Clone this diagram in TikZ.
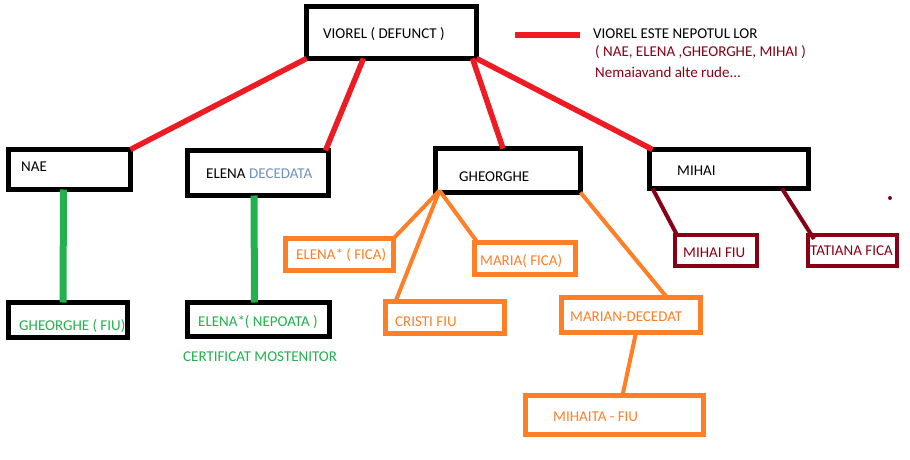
\documentclass[tikz,border=0pt]{standalone}
\usepackage{fontspec}
\setmainfont{Carlito}
\definecolor{pred}{HTML}{ED1C24}
\definecolor{pgreen}{HTML}{22B14C}
\definecolor{porange}{HTML}{FF7F27}
\definecolor{pdark}{HTML}{880015}
\definecolor{pblue}{HTML}{7092BE}
\tikzset{
  box/.style={draw, rectangle, inner sep=0pt, outer sep=0pt, line width=#1},
  blackbox/.style={box=5pt, draw=black},
  orangebox/.style={box=5pt, draw=porange},
  darkbox/.style={box=4pt, draw=pdark},
  txt/.style={anchor=west, inner sep=0pt, text height=9.5pt, text depth=0pt, font=\fontsize{15}{17}\selectfont},
  redline/.style={draw=pred, line width=5.5pt},
  greenline/.style={draw=pgreen, line width=7pt},
  orangeline/.style={draw=porange, line width=4pt},
  darkline/.style={draw=pdark, line width=4pt},
}
\begin{document}
\begin{tikzpicture}[x=1pt, y=-1pt]
\useasboundingbox[fill=white] (0,0) rectangle (910,460);
% boxes (outer edges minus half line width)
\node[blackbox, minimum width=170pt, minimum height=52pt] (viorel) at (391.5,32.5) {};
\node[blackbox, minimum width=122pt, minimum height=40pt] (nae) at (69.5,169.5) {};
\node[blackbox, minimum width=141pt, minimum height=45pt] (elena) at (258,173) {};
\node[blackbox, minimum width=145pt, minimum height=44pt] (gh) at (508,170.5) {};
\node[blackbox, minimum width=159pt, minimum height=39pt] (mihai) at (729,169) {};
\node[blackbox, minimum width=119pt, minimum height=35pt] (ghfiu) at (68,320) {};
\node[blackbox, minimum width=142pt, minimum height=34pt] (elnep) at (258.5,319.5) {};
\node[orangebox, minimum width=108pt, minimum height=32pt] (elfica) at (339.5,254.5) {};
\node[orangebox, minimum width=101pt, minimum height=32pt] (maria) at (525,258.5) {};
\node[orangebox, minimum width=119pt, minimum height=32pt] (cristi) at (445,317.5) {};
\node[orangebox, minimum width=139pt, minimum height=35pt] (marian) at (631,315) {};
\node[orangebox, minimum width=178pt, minimum height=39pt] (mihaita) at (614.5,415) {};
\node[darkbox, minimum width=82pt, minimum height=31pt] (mihaifiu) at (716,250.5) {};
\node[darkbox, minimum width=89pt, minimum height=31pt] (tatiana) at (852.5,250.5) {};
% texts
\node[txt] (tviorel) at (323,34) {VIOREL ( DEFUNCT )};
\node[txt] (tnae) at (21,167) {NAE};
\node[txt] (telena) at (206,174) {ELENA};
\node[txt, text=pblue] (tdec) at (249,174) {DECEDATA};
\node[txt] (tgh) at (459,177) {GHEORGHE};
\node[txt] (tmihai) at (677,171) {MIHAI};
\node[txt, text=pgreen] (tghfiu) at (19,326) {GHEORGHE ( FIU)};
\node[txt, text=pgreen] (telnep) at (198,322) {ELENA*( NEPOATA )};
\node[txt, text=pgreen] (tcert) at (183,357) {CERTIFICAT MOSTENITOR};
\node[txt, text=porange] (telfica) at (296,255) {ELENA* ( FICA)};
\node[txt, text=porange] (tmaria) at (480,261) {MARIA( FICA)};
\node[txt, text=porange] (tcristi) at (395,322) {CRISTI FIU};
\node[txt, text=porange] (tmarian) at (570,317) {MARIAN-DECEDAT};
\node[txt, text=porange] (tmihaita) at (553,417) {MIHAITA - FIU};
\node[txt, text=pdark] (tmihaifiu) at (683,253) {MIHAI FIU};
\node[txt, text=pdark] (ttatiana) at (810,251) {TATIANA FICA};
% legend
\coordinate (la) at (515,35);
\coordinate (lb) at (580,35);
\draw[redline] (la) -- (lb);
\node[txt] (leg1) at (593,34) {VIOREL ESTE NEPOTUL LOR};
\node[txt, text=pdark] (leg2) at (595,52) {( NAE, ELENA ,GHEORGHE, MIHAI )};
\node[txt, text=pdark] (leg3) at (595,73) {Nemaiavand alte rude...};
\fill[pdark] (890,198) circle (2pt) coordinate (dot);
% connectors
\draw[redline] (viorel.south west) -- (nae.north east);
\draw[redline] ([xshift=57pt]viorel.south west) -- ([xshift=-3pt]elena.north east);
\draw[redline] ([xshift=-4pt]viorel.south east) -- ([xshift=-5pt]gh.north);
\draw[redline] (viorel.south east) -- ([xshift=3pt]mihai.north west);
\draw[greenline] ([xshift=-6pt]nae.south) -- ([xshift=-5pt]ghfiu.north);
\draw[greenline] ([xshift=-4pt]elena.south) -- ([xshift=-4pt]elnep.north);
\draw[orangeline] ([xshift=4pt,yshift=2pt]gh.south west) -- (elfica.north east);
\draw[orangeline] ([xshift=4pt,yshift=2pt]gh.south west) -- ([xshift=10pt]cristi.north west);
\draw[orangeline] ([xshift=4pt,yshift=2pt]gh.south west) -- ([xshift=3pt]maria.north west);
\draw[orangeline] (gh.south east) -- ([xshift=36pt]marian.north);
\draw[orangeline] ([xshift=5pt]marian.south) -- ([xshift=8pt]mihaita.north);
\draw[darkline] ([xshift=3pt]mihai.south west) -- ([xshift=2pt]mihaifiu.north west);
\draw[darkline] ([xshift=53pt]mihai.south) -- ([xshift=6pt,yshift=-4pt]tatiana.north west);
\end{tikzpicture}
\end{document}
